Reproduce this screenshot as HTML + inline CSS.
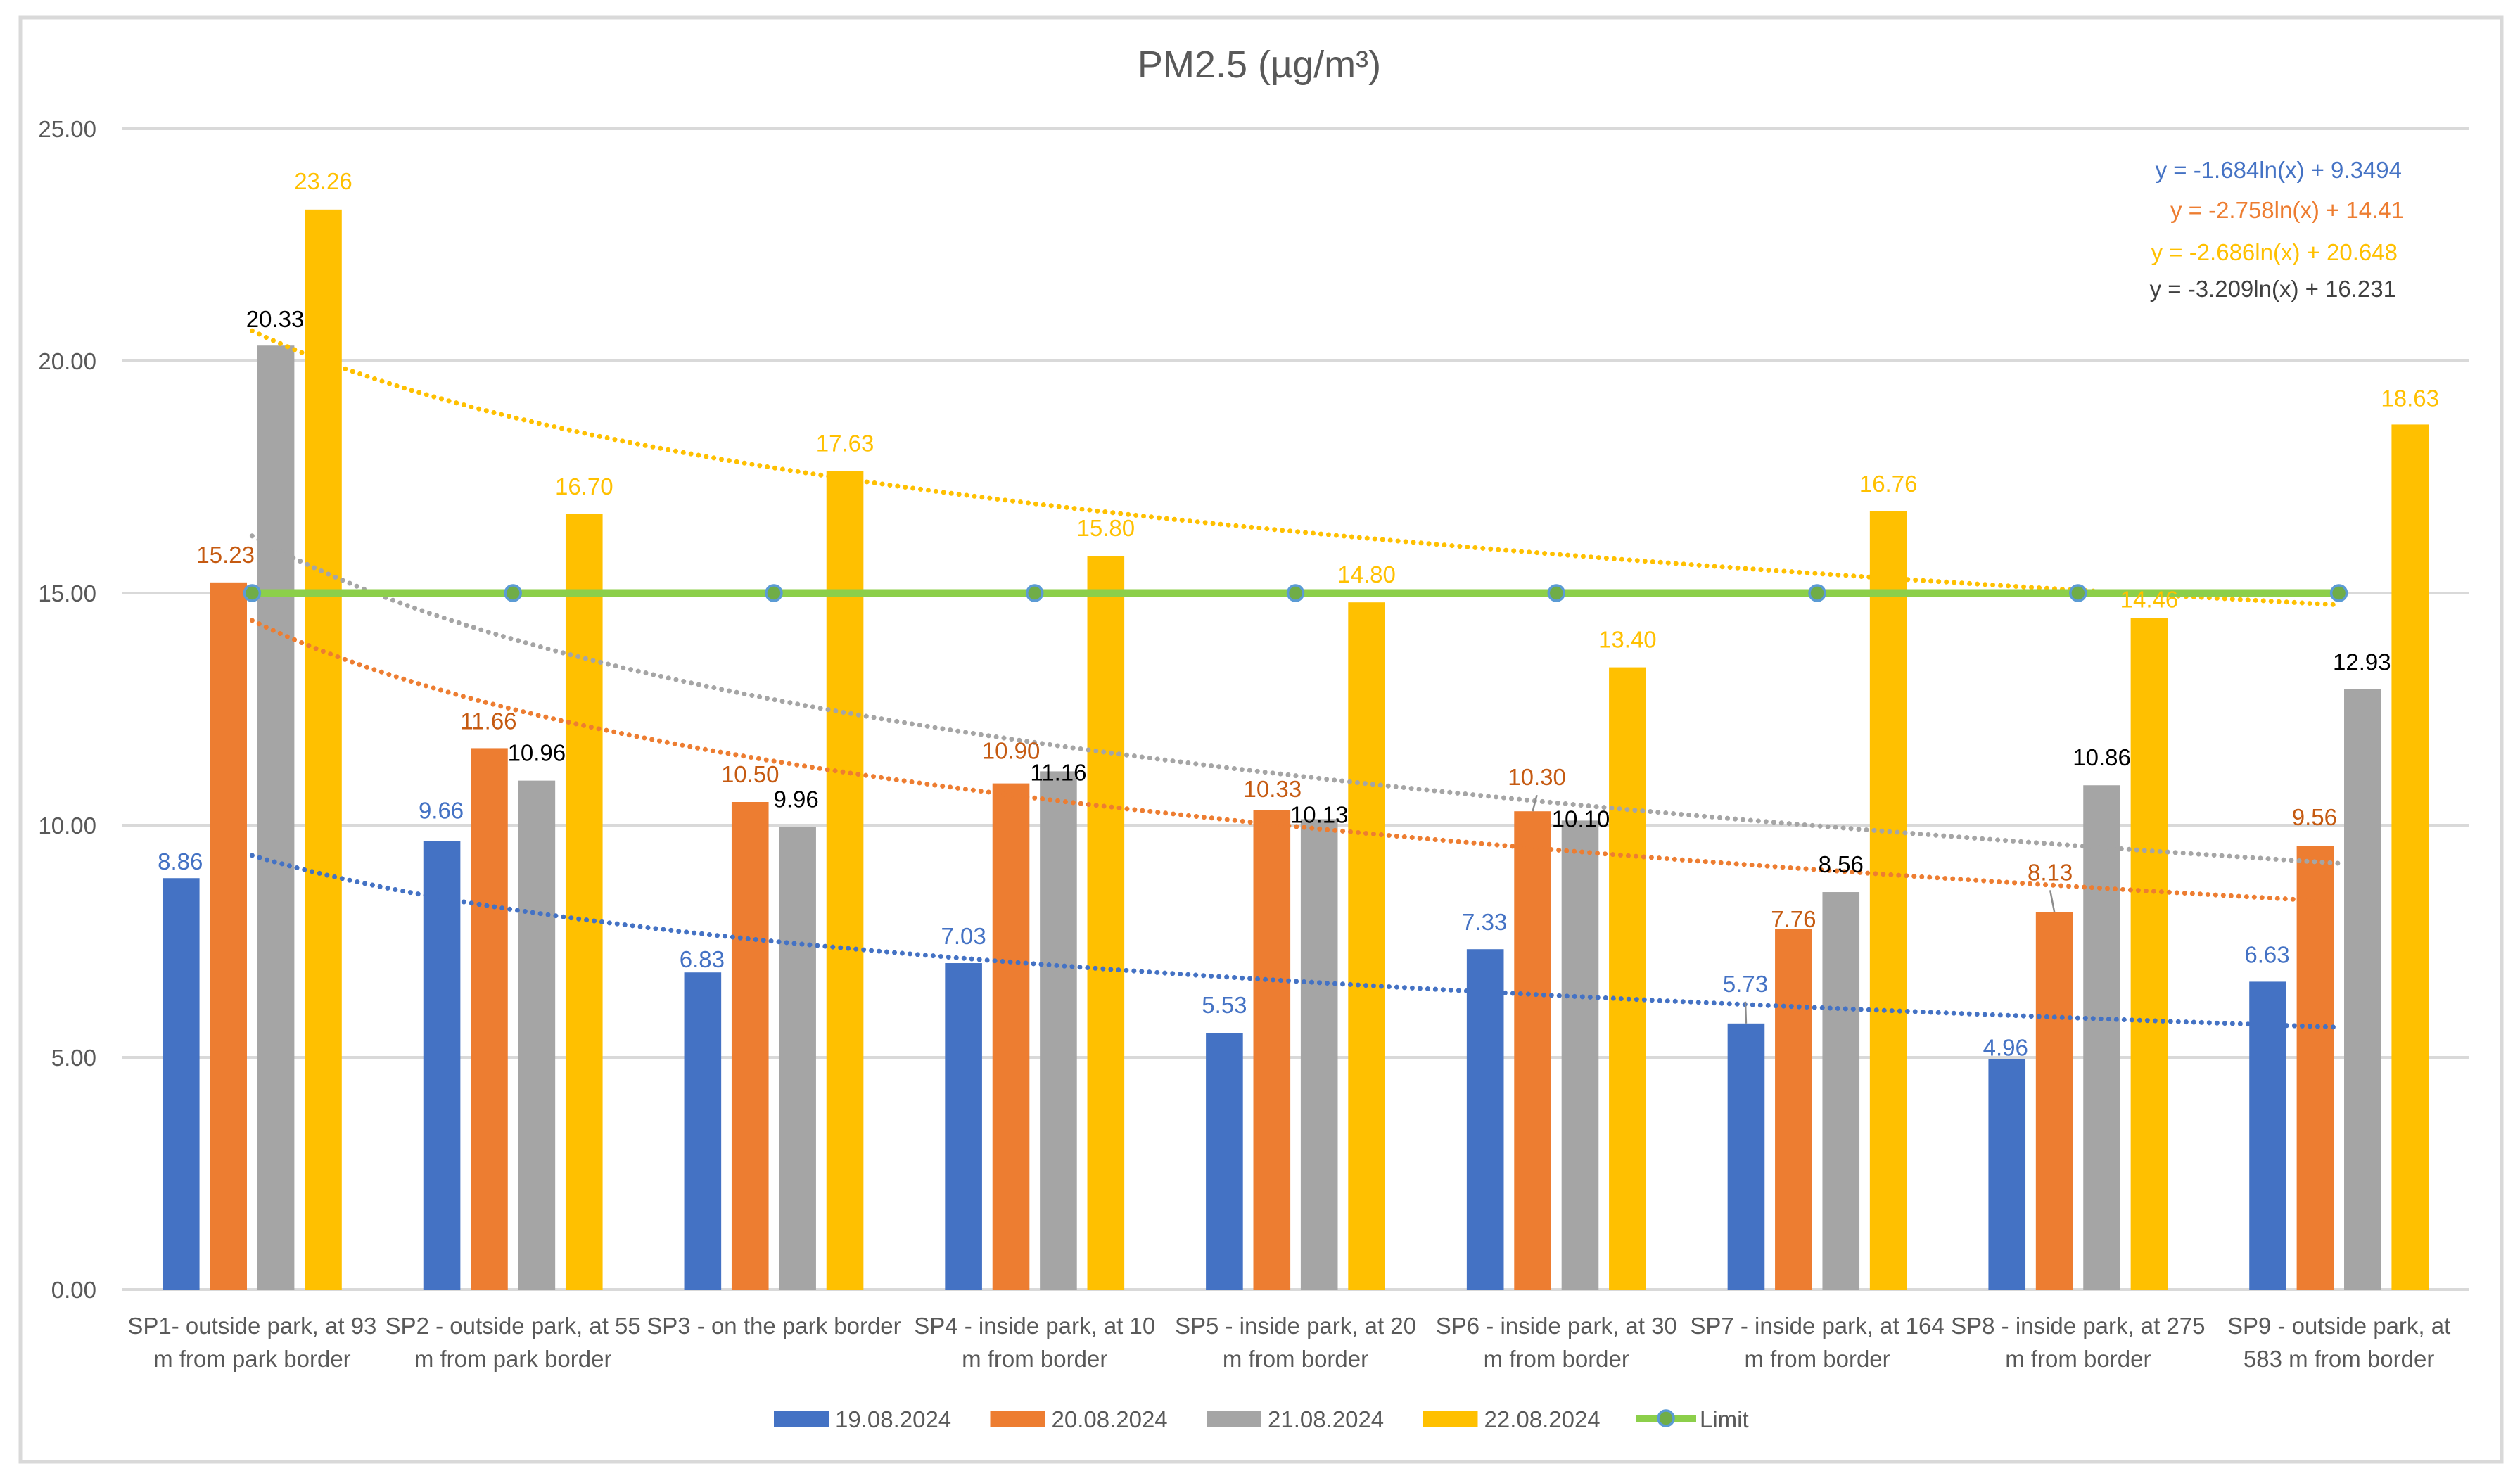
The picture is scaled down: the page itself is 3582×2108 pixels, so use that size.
<!DOCTYPE html>
<html lang="en">
<head>
<meta charset="utf-8">
<title>PM2.5 chart</title>
<style>
html,body{margin:0;padding:0;background:#fff;}
body{width:3582px;height:2108px;overflow:hidden;}
svg{display:block;}
text{font-family:"Liberation Sans",Arial,sans-serif;}
</style>
</head>
<body>
<svg id="chart" xmlns="http://www.w3.org/2000/svg" width="3582" height="2108" viewBox="0 0 3582 2108">
  <rect x="0" y="0" width="3582" height="2108" fill="#ffffff"/>
  <rect x="29" y="25" width="3527" height="2053" fill="#ffffff" stroke="#d9d9d9" stroke-width="5"/>
  <text x="1790" y="110" font-size="54" fill="#595959" text-anchor="middle">PM2.5 (µg/m³)</text>
  <g id="grid"></g>
  <g id="bars"></g>
  <g id="trends"></g>
  <g id="limit"></g>
  <g id="leaders"></g>
  <g id="labels"></g>
  <g id="yticks"></g>
  <g id="xlabels"></g>
  <g id="equations"></g>
  <g id="legend"></g>
</svg>
<script>
// ---- chart data ----
const categories = [
  ["SP1- outside park, at 93", "m from park border"],
  ["SP2 - outside park, at 55", "m from park border"],
  ["SP3 - on the park border"],
  ["SP4 - inside park, at 10", "m from border"],
  ["SP5 - inside park, at 20", "m from border"],
  ["SP6 - inside park, at 30", "m from border"],
  ["SP7 - inside park, at 164", "m from border"],
  ["SP8 - inside park, at 275", "m from border"],
  ["SP9 - outside park, at", "583 m from border"]
];
const seriesNames = ["19.08.2024", "20.08.2024", "21.08.2024", "22.08.2024"];
const values19 = [8.86, 9.66, 6.83, 7.03, 5.53, 7.33, 5.73, 4.96, 6.63];
const values20 = [15.23, 11.66, 10.50, 10.90, 10.33, 10.30, 7.76, 8.13, 9.56];
const values21 = [20.33, 10.96, 9.96, 11.16, 10.13, 10.10, 8.56, 10.86, 12.93];
const values22 = [23.26, 16.70, 17.63, 15.80, 14.80, 13.40, 16.76, 14.46, 18.63];
const limitValues = [15, 15, 15, 15, 15, 15, 15, 15, 15];
const limitName = "Limit";
const trendSlopes = [-1.684, -2.758, -3.209, -2.686];
const trendIntercepts = [9.3494, 14.41, 16.231, 20.648];
const yTicks = [0, 5, 10, 15, 20, 25];

// ---- layout / style ----
const allValues = [values19, values20, values21, values22];
const seriesColors = ["#4472c4", "#ed7d31", "#a5a5a5", "#ffc000"];
const labelColors = ["#4472c4", "#c55a11", "#000000", "#ffc000"];
const trendColors = ["#4472c4", "#ed7d31", "#a5a5a5", "#ffc000"];
const eqColors = ["#4472c4", "#ed7d31", "#ffc000", "#404040"];
const eqOrder = [0, 1, 3, 2];
const eqRight = [3414, 3417, 3408, 3406];
const eqBaseline = [253, 310, 370, 422];
// hand-placed data label nudges relative to the default spot, per series
const nudgeX = [
  [-1, -1, -1, 0, 0, -1, -1, -2, -1],
  [-4, -1, 0, 0, 1, 6, 0, -6, -1],
  [-1, 0, -2, 0, 0, 1, 0, 0, -1],
  [0, 0, 0, 0, 0, 0, 0, 0, 0]
];
const nudgeY = [
  [17, -3, 22, 2, 1, 2, -16, 24, 2],
  [1, 2, 1, -6, 11, -8, 26, -16, 0],
  [3, 1, 1, 42, 34, 38, 1, 1, 2],
  [0, 1, 1, 1, 1, 1, 1, 14, 3]
];
// series index, category index of labels pulled away with a leader line
const leaderLinks = [[0, 6], [1, 5], [1, 7]];

const plotLeft = 173, plotRight = 3510, plotTop = 183, plotBottom = 1833;
const yMax = 25;
const barWidth = 52.6, barPitch = 67.4;
const NS = "http://www.w3.org/2000/svg";

function yScale(v) { return plotBottom - (v / yMax) * (plotBottom - plotTop); }
function catCenter(i) { return plotLeft + (i + 0.5) * (plotRight - plotLeft) / categories.length; }
function barCenter(c, s) { return catCenter(c) + (s - 1.5) * barPitch; }
function make(tag, attrs, parentId, txt) {
  const el = document.createElementNS(NS, tag);
  for (const k in attrs) el.setAttribute(k, attrs[k]);
  if (txt !== undefined) el.textContent = txt;
  document.getElementById(parentId).appendChild(el);
  return el;
}

// gridlines and y tick labels
yTicks.forEach(function (t) {
  const line = make("line", {x1: plotLeft, x2: plotRight, y1: yScale(t), y2: yScale(t), stroke: "#d9d9d9", "stroke-width": 4}, "grid");
  
  
  const lab = make("text", {x: 137, y: yScale(t) + 12, "text-anchor": "end", "font-size": 33, fill: "#595959"}, "yticks", t.toFixed(2));
  
  
});

// bars and data labels
allValues.forEach(function (vals, s) {
  vals.forEach(function (v, c) {
    const bar = make("rect", {x: barCenter(c, s) - barWidth / 2, y: yScale(v), width: barWidth, height: plotBottom - yScale(v), fill: seriesColors[s]}, "bars");
    
    
    const lab = make("text", {x: barCenter(c, s) + nudgeX[s][c], y: yScale(v) - 29 + nudgeY[s][c], "text-anchor": "middle", "font-size": 33, fill: labelColors[s]}, "labels", v.toFixed(2));
    
    
  });
});

// leader lines
leaderLinks.forEach(function (link) {
  const s = link[0], c = link[1];
  const v = allValues[s][c];
  const top = yScale(v);
  const lx = barCenter(c, s) + nudgeX[s][c];
  const ly = top - 29 + nudgeY[s][c] + 14;
  const leader = make("line", {x1: lx, y1: ly, x2: barCenter(c, s), y2: top, stroke: "#8c8c8c", "stroke-width": 2.5}, "leaders");
  
  
});

// logarithmic trendlines, using the equations printed on the chart
trendSlopes.forEach(function (a, s) {
  const b = trendIntercepts[s];
  const pts = [];
  for (let k = 0; k <= 160; k++) {
    const x = 1 + k * (categories.length - 1) / 160;
    pts.push(catCenter(x - 1).toFixed(1) + "," + yScale(a * Math.log(x) + b).toFixed(1));
  }
  const trend = make("polyline", {points: pts.join(" "), fill: "none", stroke: trendColors[s], "stroke-width": 7, "stroke-linecap": "round", "stroke-dasharray": "0.01 11"}, "trends");
  
  
});

// limit series
const limitLine = make("polyline", {points: limitValues.map(function (v, c) { return catCenter(c) + "," + yScale(v); }).join(" "), fill: "none", stroke: "#8ccf4a", "stroke-width": 11}, "limit");


limitValues.forEach(function (v, c) {
  const m = make("circle", {cx: catCenter(c), cy: yScale(v), r: 11, fill: "#70ad47", stroke: "#5b9bd5", "stroke-width": 3.5}, "limit");
  
  
});

// x axis labels
categories.forEach(function (lines, c) {
  lines.forEach(function (line, n) {
    const lab = make("text", {x: catCenter(c), y: 1896 + n * 47, "text-anchor": "middle", "font-size": 33, fill: "#595959"}, "xlabels", line);
    
    
  });
});

// trendline equations
eqOrder.forEach(function (s, n) {
  const eq = make("text", {x: eqRight[n], y: eqBaseline[n], "text-anchor": "end", "font-size": 33, fill: eqColors[n]}, "equations",
    "y = " + trendSlopes[s] + "ln(x) + " + trendIntercepts[s]);
  
  
});

// legend
seriesNames.forEach(function (name, s) {
  const lx = 1100 + s * 307.5;
  const sw = make("rect", {x: lx, y: 2006, width: 78, height: 22, fill: seriesColors[s]}, "legend");
  
  
  const tx = make("text", {x: lx + 87, y: 2029, "font-size": 33, fill: "#595959"}, "legend", name);
  
  
});
const legLine = make("line", {x1: 2325, x2: 2411, y1: 2016, y2: 2016, stroke: "#8ccf4a", "stroke-width": 10}, "legend");


const legDot = make("circle", {cx: 2368, cy: 2016, r: 11, fill: "#70ad47", stroke: "#5b9bd5", "stroke-width": 3.5}, "legend");


const legTxt = make("text", {x: 2416, y: 2029, "font-size": 33, fill: "#595959"}, "legend", limitName);


</script>
</body>
</html>
